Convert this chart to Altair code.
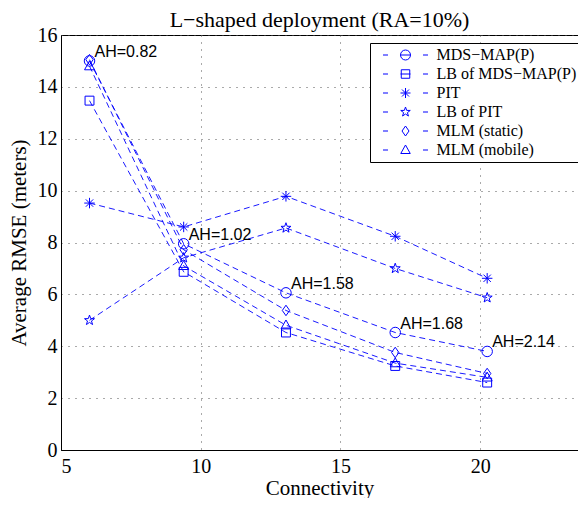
import math
import altair as alt
import pandas as pd

# ---- data ----
connectivity = [6.02, 9.39, 13.05, 16.96, 20.25]
series_names = ["MDS\u2212MAP(P)", "LB of MDS\u2212MAP(P)", "PIT", "LB of PIT",
                "MLM (static)", "MLM (mobile)"]
mds_map = [15.0, 7.95, 6.06, 4.53, 3.80]
lb_mds_map = [13.47, 6.87, 4.53, 3.24, 2.60]
pit = [9.52, 8.60, 9.78, 8.24, 6.62]
lb_pit = [5.00, 7.41, 8.56, 7.00, 5.87]
mlm_static = [15.05, 7.72, 5.38, 3.76, 2.95]
mlm_mobile = [14.80, 7.10, 4.81, 3.35, 2.80]
ah_labels = ["AH=0.82", "AH=1.02", "AH=1.58", "AH=1.68", "AH=2.14"]

values = [mds_map, lb_mds_map, pit, lb_pit, mlm_static, mlm_mobile]
rows = []
for name, vals in zip(series_names, values):
    for xv, yv in zip(connectivity, vals):
        rows.append({"series": name, "conn": xv, "rmse": yv})
df = pd.DataFrame(rows)
lab_df = pd.DataFrame({"conn": connectivity, "rmse": mds_map, "label": ah_labels})

# ---- marker shapes (styles) ----
circle = "M1,0A1,1,0,1,1,-1,0A1,1,0,1,1,1,0Z"
square = "M-0.85,-0.85L0.85,-0.85L0.85,0.85L-0.85,0.85Z"
aster = "M0,-1L0,1M-1,0L1,0M-0.7,-0.7L0.7,0.7M-0.7,0.7L0.7,-0.7"
pts = []
for k in range(10):
    r = 1.0 if k % 2 == 0 else 0.40
    a = math.radians(-90 + 36 * k)
    pts.append(f"{r*math.cos(a):.3f},{r*math.sin(a):.3f}")
star = "M" + "L".join(pts) + "Z"
diamond = "M0,-1L0.7,0L0,1L-0.7,0Z"
triangle = "M0,-1L0.95,0.7L-0.95,0.7Z"
markers = [circle, square, aster, star, diamond, triangle]
dash = "M-4.5,0L-3.5,0M3.5,0L4.5,0"
inner = "M-1,0L1,0"
legend_paths = [dash + circle + inner, dash + square + inner, dash + aster,
                dash + star, dash + diamond, dash + triangle]

BLUE = "#0000ff"
serif = "Liberation Serif"

x_enc = alt.X("conn:Q", scale=alt.Scale(domain=[5, 23.5], nice=False, zero=False),
              axis=alt.Axis(values=[5, 10, 15, 20], title="Connectivity"))
y_enc = alt.Y("rmse:Q", scale=alt.Scale(domain=[0, 16], nice=False),
              axis=alt.Axis(values=list(range(0, 17, 2)), title="Average RMSE (meters)"))

base = alt.Chart(df)
lines = base.mark_line(color=BLUE, strokeWidth=0.9, strokeDash=[6, 4]).encode(
    x=x_enc, y=y_enc, detail="series:N")
points = base.mark_point(filled=False, color=BLUE, strokeWidth=1, size=110, opacity=1).encode(
    x=x_enc, y=y_enc,
    shape=alt.Shape("series:N", scale=alt.Scale(domain=series_names, range=markers), legend=None))
leg = base.mark_point(filled=False, color=BLUE, strokeWidth=1, size=100, opacity=0).encode(
    x=x_enc, y=y_enc,
    shape=alt.Shape("series:N", scale=alt.Scale(domain=series_names, range=legend_paths),
                    legend=alt.Legend(title=None, orient="none", legendX=309, legendY=8,
                                      symbolSize=100, symbolOpacity=1, symbolStrokeColor=BLUE,
                                      symbolStrokeWidth=1, symbolFillColor="transparent",
                                      symbolOffset=23.5, labelOffset=23, padding=4,
                                      rowPadding=3, labelFont=serif, labelFontSize=16,
                                      labelColor="black", strokeColor="black",
                                      fillColor="white", labelLimit=300)))
labels = alt.Chart(lab_df).mark_text(align="left", baseline="alphabetic", dx=5, dy=-4,
                                     font="Liberation Sans", fontSize=16, color="black").encode(
    x=x_enc, y=y_enc, text="label:N")

chart = alt.layer(lines, points, leg, labels).resolve_scale(shape="independent").properties(
    width=570, height=490, background="white",
    autosize=alt.AutoSizeParams(type="fit", contains="padding"),
    title=alt.TitleParams("L\u2212shaped deployment (RA=10%)", font=serif, fontSize=22,
                          fontWeight="normal", color="black", offset=-7),
    padding={"left": 0, "top": 1, "right": 0, "bottom": 0},
).configure_view(stroke="black", strokeWidth=1).configure_axis(
    labelFont=serif, labelFontSize=20, labelColor="black", titleFont=serif,
    titleFontSize=21, titleFontWeight="normal", titleColor="black",
    domainColor="black", tickSize=0, grid=True, gridColor="#555555",
    gridDash=[1, 6], gridWidth=1,
).configure_axisX(labelPadding=6, titlePadding=1).configure_axisY(
    labelPadding=4, titlePadding=8)

chart.save("out.html", embed_options={"renderer": "svg", "actions": False})
